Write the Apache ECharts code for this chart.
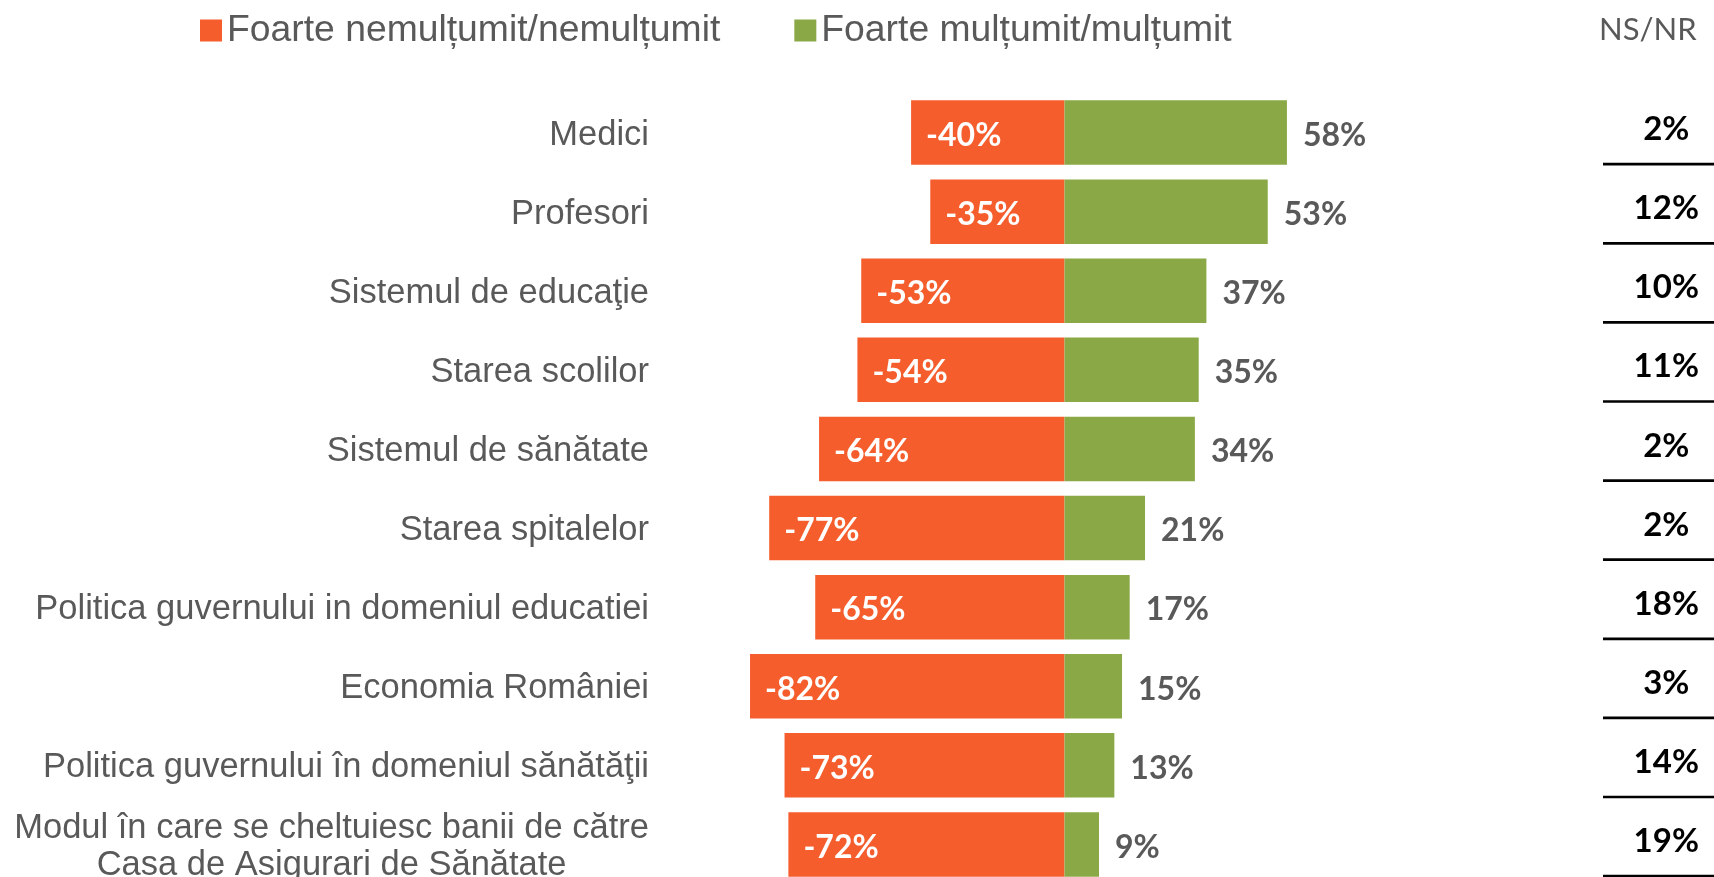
<!DOCTYPE html>
<html>
<head>
<meta charset="utf-8">
<script src="https://cdn.jsdelivr.net/npm/echarts@6/dist/echarts.min.js"></script>
<style>
html,body{margin:0;padding:0;background:#fff;}
#chart{width:1714px;height:877px;}
</style>
</head>
<body>
<div id="chart"></div>
<script>
const categories = [
  'Medici',
  'Profesori',
  'Sistemul de educaţie',
  'Starea scolilor',
  'Sistemul de sănătate',
  'Starea spitalelor',
  'Politica guvernului in domeniul educatiei',
  'Economia României',
  'Politica guvernului în domeniul sănătăţii',
  'Modul în care se cheltuiesc banii de către\nCasa de Asigurari de Sănătate'
];
const nemultumit = [-40, -35, -53, -54, -64, -77, -65, -82, -73, -72];
const multumit = [58, 53, 37, 35, 34, 21, 17, 15, 13, 9];
const nsnr = [2, 12, 10, 11, 2, 2, 18, 3, 14, 19];
const seriesNames = ['Foarte nemulțumit/nemulțumit', 'Foarte mulțumit/mulțumit'];
const nsnrTitle = 'NS/NR';

const ORANGE = '#F55D2C';
const GREEN = '#8AA946';
const GRAY = '#595959';

const chart = echarts.init(document.getElementById('chart'));
chart.setOption({
  animation: false,
  backgroundColor: '#fff',
  title: {
    text: nsnrTitle,
    left: 1594,
    top: 9,
    padding: 5,
    textStyle: {fontFamily: 'Lato', fontWeight: 'normal', fontSize: 31, color: GRAY}
  },
  legend: {
    left: 200,
    top: 12,
    padding: 0,
    itemWidth: 22,
    itemHeight: 22,
    itemGap: 74,
    icon: 'rect',
    textStyle: {fontFamily: 'Liberation Sans', fontSize: 37.3, color: GRAY},
    data: seriesNames
  },
  grid: [
    {left: 681, width: 767, top: 93, height: 791, containLabel: false, outerBoundsMode: 'none'},
    {left: 1603, width: 111, top: 93, height: 791, containLabel: false, outerBoundsMode: 'none'}
  ],
  xAxis: [
    {type: 'value', gridIndex: 0, min: -100, max: 100, show: false},
    {type: 'value', gridIndex: 1, min: 0, max: 1, show: false}
  ],
  yAxis: [
    {
      type: 'category', gridIndex: 0, data: categories, inverse: true,
      axisLine: {show: false}, axisTick: {show: false}, splitLine: {show: false},
      axisLabel: {
        margin: 32,
        padding: [5, 0, 0, 0],
        fontFamily: 'Liberation Sans', fontSize: 34.5, color: GRAY, lineHeight: 37,
        formatter: function (v) {
          return v.split('\n').map(function (s) { return '{c|' + s + '}'; }).join('\n');
        },
        rich: {c: {fontFamily: 'Liberation Sans', fontSize: 34.5, color: GRAY, lineHeight: 37, align: 'center'}}
      }
    },
    {type: 'category', gridIndex: 1, data: categories, inverse: true, show: false}
  ],
  series: [
    {
      name: seriesNames[0], type: 'bar', stack: 'total', xAxisIndex: 0, yAxisIndex: 0,
      data: nemultumit, barCategoryGap: '18.4%',
      itemStyle: {color: ORANGE},
      label: {
        show: true, position: 'insideLeft', distance: 15, offset: [0, 3],
        formatter: '{c}%', fontFamily: 'Lato', fontWeight: 'bold', fontSize: 32, color: '#fff'
      }
    },
    {
      name: seriesNames[1], type: 'bar', stack: 'total', xAxisIndex: 0, yAxisIndex: 0,
      data: multumit, barCategoryGap: '18.4%',
      itemStyle: {color: GREEN},
      label: {
        show: true, position: 'right', distance: 16, offset: [0, 3],
        formatter: '{c}%', fontFamily: 'Lato', fontWeight: 'bold', fontSize: 32, color: GRAY
      }
    },
    {
      name: nsnrTitle, type: 'custom', xAxisIndex: 1, yAxisIndex: 1,
      data: nsnr.map(function (v, i) { return [v, i]; }),
      encode: {y: 1},
      renderItem: function (params, api) {
        const idx = api.value(1);
        const val = api.value(0);
        const c = api.coord([0.57, idx]);
        const l = api.coord([0, idx]);
        const r = api.coord([1, idx]);
        const band = api.size([0, 1])[1];
        const ly = c[1] + band * 0.40;
        return {
          type: 'group',
          children: [
            {type: 'text', style: {x: c[0], y: c[1] - 3, text: val + '%', align: 'center', verticalAlign: 'middle',
              fontFamily: 'Lato', fontWeight: 'bold', fontSize: 33, fill: '#000'}},
            {type: 'line', shape: {x1: l[0], y1: ly, x2: r[0] + 2, y2: ly}, style: {stroke: '#000', lineWidth: 2.7}}
          ]
        };
      }
    }
  ]
});
</script>
</body>
</html>
